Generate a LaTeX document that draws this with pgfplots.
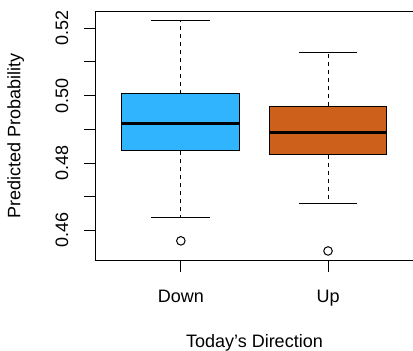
\documentclass[border=0pt]{standalone}
\usepackage{fontspec}
\setmainfont{Liberation Sans}
\usepackage{pgfplots}
\pgfplotsset{compat=1.18}
\definecolor{downblue}{HTML}{31B4FE}
\definecolor{uporange}{HTML}{CD611C}
\begin{document}
\begin{tikzpicture}
\begin{axis}[
  at={(0,0)}, anchor=south west,
  scale only axis, width=238.4pt, height=186.4pt,
  xmin=0.42, xmax=2.58, ymin=0.4512, ymax=0.5250,
  axis lines=box,
  xtick={1,2}, xticklabels={Down,Up},
  ytick={0.46,0.48,0.50,0.52}, yticklabels={0.46,0.48,0.50,0.52},
  minor ytick={0.47,0.49,0.51},
  tick pos=left, tick align=outside,
  major tick length=8.6pt, minor tick length=8.6pt,
  every tick/.style={black, line width=0.75pt},
  axis line style={black, line width=0.75pt},
  font=\fontsize{13.5}{16}\selectfont,
  xticklabel style={anchor=base, inner sep=0pt, yshift=-23.5pt},
  yticklabel style={anchor=base, inner sep=0pt, xshift=-12pt, rotate=90},
  xlabel={Today's Direction},
  ylabel={Predicted Probability},
  every axis x label/.style={at={(axis description cs:0.5,-0.3503)}, anchor=base, inner sep=0pt},
  every axis y label/.style={at={(axis description cs:-0.236,0.5)}, rotate=90, anchor=base, inner sep=0pt},
  clip=false,
]
% Down: whiskers 0.4638 / 0.5224, box 0.4837-0.5005, median 0.4918, outlier 0.4569
\addplot[black, line width=0.75pt, dash pattern=on 3pt off 3pt, mark=none] coordinates {(1,0.5005) (1,0.5224)};
\addplot[black, line width=0.75pt, dash pattern=on 3pt off 3pt, mark=none] coordinates {(1,0.4837) (1,0.4638)};
\addplot[black, line width=0.75pt, mark=none] coordinates {(0.8,0.5224) (1.2,0.5224)};
\addplot[black, line width=0.75pt, mark=none] coordinates {(0.8,0.4638) (1.2,0.4638)};
\addplot[draw=black, fill=downblue, line width=0.75pt, mark=none] coordinates {(0.6,0.4837) (1.4,0.4837) (1.4,0.5005) (0.6,0.5005)} -- cycle;
\addplot[black, line width=2.25pt, mark=none] coordinates {(0.6,0.4918) (1.4,0.4918)};
\addplot[only marks, mark=o, mark size=3.2pt, mark options={black, line width=0.75pt}] coordinates {(1,0.4569)};
% Up: whiskers 0.4680 / 0.5129, box 0.4824-0.4968, median 0.4892, outlier 0.4539
\addplot[black, line width=0.75pt, dash pattern=on 3pt off 3pt, mark=none] coordinates {(2,0.4968) (2,0.5129)};
\addplot[black, line width=0.75pt, dash pattern=on 3pt off 3pt, mark=none] coordinates {(2,0.4824) (2,0.4680)};
\addplot[black, line width=0.75pt, mark=none] coordinates {(1.8,0.5129) (2.2,0.5129)};
\addplot[black, line width=0.75pt, mark=none] coordinates {(1.8,0.4680) (2.2,0.4680)};
\addplot[draw=black, fill=uporange, line width=0.75pt, mark=none] coordinates {(1.6,0.4824) (2.4,0.4824) (2.4,0.4968) (1.6,0.4968)} -- cycle;
\addplot[black, line width=2.25pt, mark=none] coordinates {(1.6,0.4892) (2.4,0.4892)};
\addplot[only marks, mark=o, mark size=3.2pt, mark options={black, line width=0.75pt}] coordinates {(2,0.4539)};
\end{axis}
\pgfresetboundingbox
\useasboundingbox (-71.6pt,-67.9pt) rectangle (238.1pt,195pt);
\end{tikzpicture}
\end{document}
